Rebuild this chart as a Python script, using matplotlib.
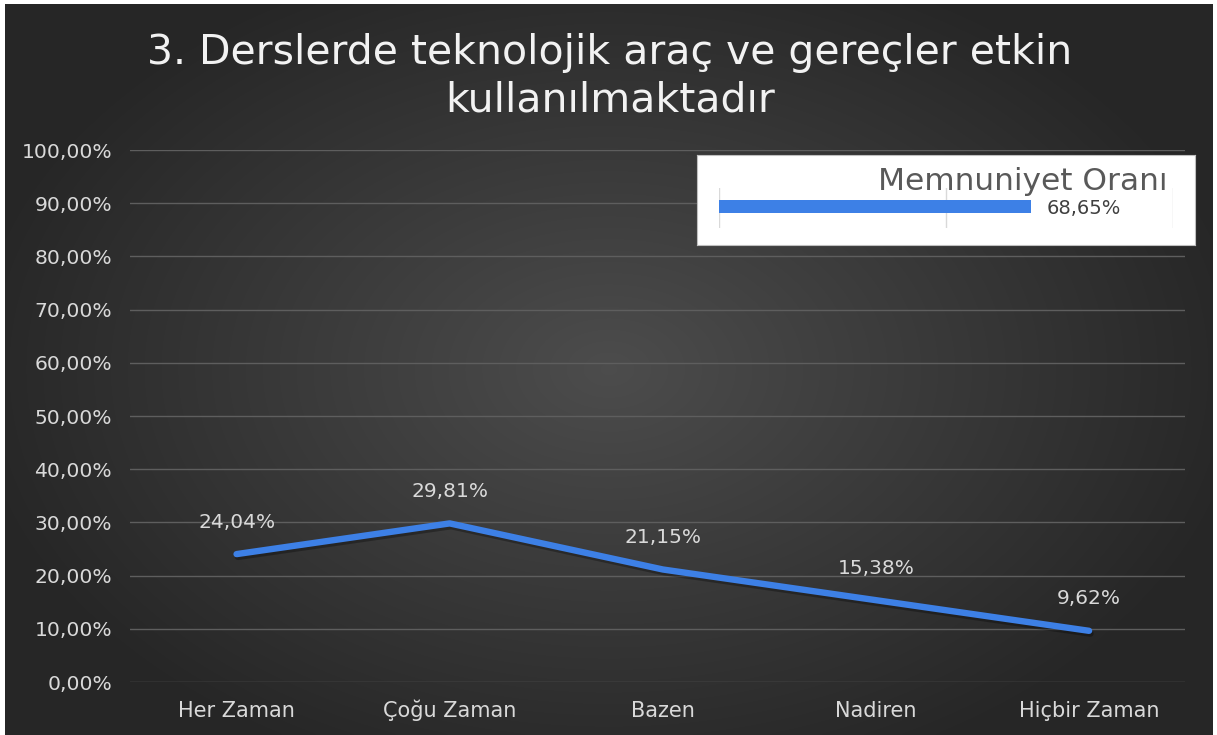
import numpy as np
import matplotlib
matplotlib.use("Agg")
import matplotlib.pyplot as plt
import matplotlib.patheffects as pe

plt.rcParams['font.family'] = ['DejaVu Sans']

# veriler
kategoriler = ["Her Zaman", "Çoğu Zaman", "Bazen", "Nadiren", "Hiçbir Zaman"]
oranlar = [24.04, 29.81, 21.15, 15.38, 9.62]
etiketler = ["24,04%", "29,81%", "21,15%", "15,38%", "9,62%"]
memnuniyet = [68.65]
memnuniyet_etiket = ["68,65%"]
baslik = "3. Derslerde teknolojik araç ve gereçler etkin\nkullanılmaktadır"

W, H = 1217, 735
fig = plt.figure(figsize=(W / 100, H / 100), dpi=100, facecolor="white")

# koyu radyal arka plan
bg = fig.add_axes([5 / W, 0, (1213 - 5) / W, 1 - 4 / H])
yy, xx = np.mgrid[-1:1:300j, -1:1:500j]
r = np.sqrt(xx ** 2 + (yy * 0.9) ** 2)
val = np.clip(0.30 - 0.14 * r, 0.15, 0.30)
bg.imshow(np.dstack([val, val, val]), aspect="auto", extent=[0, 1, 0, 1],
          interpolation="bicubic")
bg.set_axis_off()

# ana grafik
ax = fig.add_axes([130 / W, 1 - 682 / H, (1185 - 130) / W, (682 - 150) / H])
ax.set_facecolor("none")
x = np.arange(len(kategoriler))
ax.plot(x, oranlar, color="#3d80e6", lw=4.6, solid_capstyle="round",
        solid_joinstyle="round", zorder=3,
        path_effects=[pe.SimpleLineShadow(offset=(1, -2), shadow_color="black", alpha=0.3),
                      pe.Normal()])
for xi, v, t in zip(x, oranlar, etiketler):
    ax.annotate(t, (xi, v), xytext=(0, 23), textcoords="offset points",
                ha="center", va="center", fontsize=14.5, color="#d9d9d9")

ax.set_xlim(-0.5, 4.45)
ax.set_ylim(0, 100)
ax.set_yticks(np.arange(0, 101, 10))
ax.set_yticklabels([f"{v},00%" for v in range(0, 101, 10)])
ax.set_xticks(x)
ax.set_xticklabels(kategoriler)
ax.tick_params(axis="y", length=0, pad=13, labelsize=14.6, labelcolor="#d9d9d9")
ax.tick_params(axis="x", length=0, pad=25, labelsize=15, labelcolor="#d9d9d9")
for lbl in ax.get_xticklabels():
    lbl.set_va("baseline")
ax.grid(axis="y", color="#5e5e5e", lw=1)
ax.set_axisbelow(True)
for s in ax.spines.values():
    s.set_visible(False)

fig.text(610 / W, 1 - 77 / H, baslik, ha="center", va="center",
         fontsize=29.5, color="#f2f2f2", linespacing=1.25)

# memnuniyet kutusu
kutu = fig.add_axes([697 / W, 1 - 245 / H, (1195 - 697) / W, (245 - 155) / H])
kutu.set_facecolor("white")
kutu.set_xticks([])
kutu.set_yticks([])
for s in kutu.spines.values():
    s.set_color("#bfbfbf")
fig.text(1167 / W, 1 - 182 / H, "Memnuniyet Oranı", ha="right", va="center",
         fontsize=22.5, color="#595959", zorder=5)

mini = fig.add_axes([719 / W, 1 - 228 / H, (1173 - 719) / W, 40 / H])
mini.set_facecolor("none")
mini.barh([0.54], memnuniyet, height=0.33, color="#3d80e6", zorder=3)
mini.text(memnuniyet[0] + 3.5, 0.5, memnuniyet_etiket[0], ha="left", va="center",
          fontsize=14, color="#404040")
mini.set_xlim(0, 100)
mini.set_ylim(0, 1)
mini.set_xticks([0, 50, 100])
mini.set_yticks([])
mini.tick_params(length=0, labelbottom=False)
mini.grid(axis="x", color="#d9d9d9", lw=1)
mini.set_axisbelow(True)
for s in mini.spines.values():
    s.set_visible(False)

fig.savefig("out.png", dpi=100, facecolor="white")
